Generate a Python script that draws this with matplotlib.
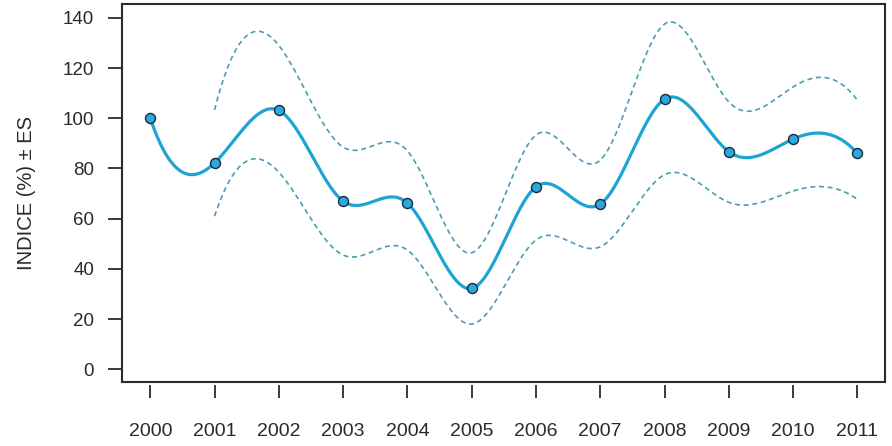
import numpy as np
import matplotlib
matplotlib.use('Agg')
import matplotlib.pyplot as plt

plt.rcParams['font.family'] = ['Liberation Sans', 'DejaVu Sans']

# Valeurs
years = [2000, 2001, 2002, 2003, 2004, 2005, 2006, 2007, 2008, 2009, 2010, 2011]
indice = [100, 82.2, 103.1, 67.0, 66.2, 32.2, 72.7, 65.8, 107.6, 86.7, 91.7, 86.0]

# Bornes +/- ES (à partir de 2001)
es_years = [2001, 2002, 2003, 2004, 2005, 2006, 2007, 2008, 2009, 2010, 2011]
upper = [103.3, 129.0, 88.5, 87.0, 46.4, 93.3, 83.3, 137.5, 106.5, 112.5, 107.2]
lower = [61.0, 78.5, 45.5, 47.5, 18.0, 51.5, 48.8, 77.5, 66.5, 71.0, 67.7]


def third_diff(x, y):
    # différence divisée d'ordre 3 sur 4 points
    d1 = np.diff(y) / np.diff(x)
    d2 = np.diff(d1) / (x[2:] - x[:-2])
    return (d2[1] - d2[0]) / (x[3] - x[0])


# Spline cubique, conditions aux bords "fmm" (comme spline() de R)
def fmm_spline(x, y, n=600):
    x = np.asarray(x, float)
    y = np.asarray(y, float)
    k = len(x)
    h = np.diff(x)
    A = np.zeros((k, k))
    b = np.zeros(k)
    # M1 - M0 = h0 * 6 * f[x0..x3]
    A[0, 0] = -1
    A[0, 1] = 1
    b[0] = h[0] * 6 * third_diff(x[:4], y[:4])
    A[-1, -2] = -1
    A[-1, -1] = 1
    b[-1] = h[-1] * 6 * third_diff(x[-4:], y[-4:])
    for i in range(1, k - 1):
        A[i, i - 1] = h[i - 1]
        A[i, i] = 2 * (h[i - 1] + h[i])
        A[i, i + 1] = h[i]
        b[i] = 6 * ((y[i + 1] - y[i]) / h[i] - (y[i] - y[i - 1]) / h[i - 1])
    M = np.linalg.solve(A, b)
    xs = np.linspace(x[0], x[-1], n)
    idx = np.clip(np.searchsorted(x, xs) - 1, 0, k - 2)
    x0, x1 = x[idx], x[idx + 1]
    hh = x1 - x0
    t0 = x1 - xs
    t1 = xs - x0
    ys = (M[idx] * t0 ** 3 / (6 * hh) + M[idx + 1] * t1 ** 3 / (6 * hh)
          + (y[idx] / hh - M[idx] * hh / 6) * t0
          + (y[idx + 1] / hh - M[idx + 1] * hh / 6) * t1)
    return xs, ys


fig = plt.figure(figsize=(8.92, 4.46), dpi=100)
ax = fig.add_axes([122 / 892, 1 - 382 / 446, 763 / 892, 378 / 446])

line_col = '#1ea4d2'
dash_col = '#4b9cb3'

xs, ys = fmm_spline(es_years, upper)
ax.plot(xs, ys, color=dash_col, lw=1.2, linestyle=(0, (3, 2.2)))
xs, ys = fmm_spline(es_years, lower)
ax.plot(xs, ys, color=dash_col, lw=1.2, linestyle=(0, (3, 2.2)))

xs, ys = fmm_spline(years, indice)
ax.plot(xs, ys, color=line_col, lw=2.3, solid_capstyle='round')
ax.plot(years, indice, 'o', ms=7.2, mfc='#2aa9e0', mec='#1b2a36', mew=1.0, zorder=5)

ax.set_xlim(1999.56, 2011.43)
ax.set_ylim(-5.06, 145.5)

for s in ax.spines.values():
    s.set_linewidth(1.5)
    s.set_color('#2b2b2b')

ax.set_yticks(range(0, 141, 20))
ax.tick_params(axis='y', length=10, width=1.3, color='#2b2b2b', pad=10,
               labelsize=13.5, labelcolor='#2a2a2a')
ax.set_xticks([])

# axe des x décalé sous le cadre, sans ligne d'axe
sec = ax.secondary_xaxis(-0.008)
sec.spines['bottom'].set_visible(False)
sec.set_xticks(years)
sec.set_xticklabels([str(y) for y in years])
sec.tick_params(axis='x', length=9.5, width=1.3, color='#2b2b2b', pad=18,
                labelsize=14, labelcolor='#2a2a2a')

fig.text(27 / 892, 1 - 193 / 446, 'INDICE (%) ± ES', rotation=90,
         ha='center', va='center', fontsize=14.5, color='#2a2a2a')

fig.savefig('out.png', dpi=100)
